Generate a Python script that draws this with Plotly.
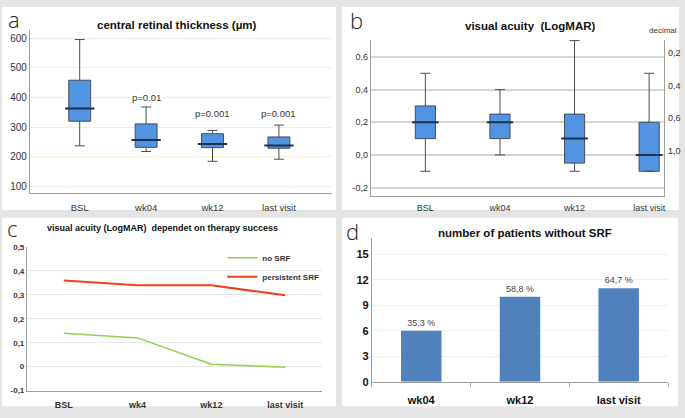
import plotly.graph_objects as go

W, H = 685, 418

# panel a: central retinal thickness (box summary stats)
crt_cats = ['BSL', 'wk04', 'wk12', 'last visit']
crt_low = [237, 218, 185, 192]
crt_q1 = [320, 232, 231, 229]
crt_med = [363, 257, 243, 238]
crt_q3 = [458, 311, 278, 267]
crt_high = [595, 368, 289, 307]
crt_pvals = ['', 'p=0.01', 'p=0.001', 'p=0.001']

# panel b: visual acuity logMAR (box summary stats)
va_cats = ['BSL', 'wk04', 'wk12', 'last visit']
va_low = [-0.1, 0.0, -0.1, -0.1]
va_q1 = [0.1, 0.1, -0.05, -0.1]
va_med = [0.2, 0.2, 0.1, 0.0]
va_q3 = [0.3, 0.25, 0.25, 0.2]
va_high = [0.5, 0.4, 0.7, 0.5]
va_ticks = [-0.2, 0.0, 0.2, 0.4, 0.6]
va_ticktext = ['-0,2', '0,0', '0,2', '0,4', '0,6']
dec_ticks = [0.6, 0.4, 0.2, 0.0]
dec_ticktext = ['0,2', '0,4', '0,6', '1,0']

# panel c: visual acuity by therapy success
srf_cats = ['BSL', 'wk4', 'wk12', 'last visit']
no_srf = [0.14, 0.12, 0.01, -0.003]
persistent_srf = [0.36, 0.34, 0.34, 0.298]
c_ticks = [-0.1, 0, 0.1, 0.2, 0.3, 0.4, 0.5]
c_ticktext = ['-0,1', '0', '0,1', '0,2', '0,3', '0,4', '0,5']

# panel d: number of patients without SRF
pat_cats = ['wk04', 'wk12', 'last visit']
pat_counts = [6, 10, 11]
pat_pct = ['35,3 %', '58,8 %', '64,7 %']

FONT = 'Liberation Sans'
TXT = '#333333'
BOX_FILL = '#5294e2'
BOX_LINE = '#454d58'
MED_LINE = '#1c3350'


def px_x(p):
    return p / W


def px_y(p):
    return 1 - p / H


def dom_x(a, b):
    return [px_x(a), px_x(b)]


def dom_y(top, bottom):
    return [px_y(bottom), px_y(top)]


fig = go.Figure()

# ---- a
fig.add_trace(go.Box(
    x=crt_cats, q1=crt_q1, median=crt_med, q3=crt_q3,
    lowerfence=crt_low, upperfence=crt_high,
    boxpoints=False, width=0.33, whiskerwidth=0.45,
    fillcolor=BOX_FILL, line=dict(color=BOX_LINE, width=1),
    xaxis='x', yaxis='y', showlegend=False, hoverinfo='skip',
))
fig.add_trace(go.Scatter(
    x=crt_cats, y=crt_med, mode='markers',
    marker=dict(symbol='line-ew', size=21, line=dict(color=MED_LINE, width=2)),
    xaxis='x', yaxis='y', showlegend=False, hoverinfo='skip',
))

# ---- b
fig.add_trace(go.Box(
    x=va_cats, q1=va_q1, median=va_med, q3=va_q3,
    lowerfence=va_low, upperfence=va_high,
    boxpoints=False, width=0.27, whiskerwidth=0.5,
    fillcolor=BOX_FILL, line=dict(color=BOX_LINE, width=1),
    xaxis='x2', yaxis='y2', showlegend=False, hoverinfo='skip',
))
fig.add_trace(go.Scatter(
    x=va_cats, y=va_med, mode='markers',
    marker=dict(symbol='line-ew', size=19, line=dict(color=MED_LINE, width=2)),
    xaxis='x2', yaxis='y2', showlegend=False, hoverinfo='skip',
))

# ---- c
fig.add_trace(go.Scatter(
    x=srf_cats, y=no_srf, mode='lines', name='no SRF',
    line=dict(color='#8fd14f', width=1.5),
    xaxis='x4', yaxis='y4',
))
fig.add_trace(go.Scatter(
    x=srf_cats, y=persistent_srf, mode='lines', name='persistent SRF',
    line=dict(color='#f0401c', width=2),
    xaxis='x4', yaxis='y4',
))

# ---- d
fig.add_trace(go.Bar(
    x=pat_cats, y=pat_counts, text=pat_pct, textposition='outside',
    textfont=dict(size=9, color='#444444', family=FONT),
    marker=dict(color='#4f81bd', line=dict(width=0)), width=0.41,
    cliponaxis=False, xaxis='x5', yaxis='y5', showlegend=False,
    hoverinfo='skip',
))

axis_line = dict(showline=True, linecolor='#a0a0a0', linewidth=1, zeroline=False,
                 ticks='', tickfont=dict(family=FONT, size=9, color=TXT))

panels = [
    (2, 3, 337, 211),
    (343, 3, 681, 211),
    (2, 219, 337, 412),
    (343, 219, 680, 412),
]
shapes = [
    dict(type='rect', xref='paper', yref='paper', layer='below',
         x0=px_x(l), x1=px_x(r), y0=px_y(b), y1=px_y(t),
         fillcolor='white', line=dict(width=0))
    for l, t, r, b in panels
]


def note(text, x, y, size, color=TXT, family=FONT, weight='normal'):
    return dict(text=text, x=px_x(x), y=px_y(y), xref='paper', yref='paper',
                xanchor='center', yanchor='middle', showarrow=False,
                font=dict(family=family, size=size, color=color, weight=weight))


annotations = []
for letter, (x, y) in zip('abcd', [(14, 15), (358, 16), (12, 230), (354, 233)]):
    annotations.append(note(letter, x, y, 22, '#222222', 'Open Sans', 300))

titles = [
    ('central retinal thickness (µm)', 178, 22, 11.5),
    ('visual acuity  (LogMAR)', 532, 23, 11.5),
    ('visual acuity (LogMAR)  dependet on therapy success', 163, 230, 9),
    ('number of patients without SRF', 527, 235, 11.5),
]
for text, x, y, size in titles:
    annotations.append(note('<b>%s</b>' % text, x, y, size, '#111111'))

p_label_y = {'p=0.01': 400, 'p=0.001': 347}
for cat, p in zip(crt_cats, crt_pvals):
    if p:
        annotations.append(dict(text=p, x=cat, y=p_label_y[p], xref='x', yref='y',
                                showarrow=False, bgcolor='white',
                                font=dict(family=FONT, size=9.5, color=TXT)))

# right-hand decimal scale of panel b
annotations.append(note('decimal', 665, 27, 8))
for val, txt in zip(dec_ticks, dec_ticktext):
    annotations.append(dict(text=txt, x=1, y=val, xref='x2 domain', yref='y2',
                            xanchor='left', yanchor='middle', xshift=2, yshift=4,
                            showarrow=False, font=dict(family=FONT, size=9, color=TXT)))

fig.update_layout(
    width=W, height=H,
    margin=dict(l=0, r=0, t=0, b=0),
    paper_bgcolor='#e4e4e4',
    plot_bgcolor='rgba(0,0,0,0)',
    shapes=shapes,
    annotations=annotations,
    font=dict(family=FONT, color=TXT),
    # a
    xaxis=dict(axis_line, domain=dom_x(30, 333), anchor='y', type='category',
               range=[-0.75, 3.8], showgrid=False, ticklabelstandoff=5,
               tickfont=dict(family=FONT, size=9.5, color=TXT)),
    yaxis=dict(axis_line, domain=dom_y(27, 194), anchor='x', range=[77, 626],
               tickvals=[100, 200, 300, 400, 500, 600], showgrid=True,
               gridcolor='#f2eedd', gridwidth=1,
               tickfont=dict(family=FONT, size=10, color=TXT)),
    # b
    xaxis2=dict(axis_line, domain=dom_x(372, 666), anchor='y2', type='category',
                range=[-0.73, 3.2], showgrid=False, ticklabelstandoff=3),
    yaxis2=dict(axis_line, domain=dom_y(37, 197), anchor='x2', range=[-0.253, 0.703],
                tickvals=va_ticks, ticktext=va_ticktext, showgrid=True, mirror=True,
                gridcolor='#d6d6d6', gridwidth=1.5),
    # c
    xaxis4=dict(axis_line, domain=dom_x(27, 323), anchor='y4', type='category',
                range=[-0.5, 3.5], showgrid=False, ticklabelstandoff=6,
                tickfont=dict(family=FONT, size=9, color=TXT, weight='bold')),
    yaxis4=dict(axis_line, domain=dom_y(249, 396), anchor='x4', range=[-0.1, 0.5],
                tickvals=c_ticks, ticktext=c_ticktext, showgrid=True,
                gridcolor='#e6e6e6', gridwidth=1,
                tickfont=dict(family=FONT, size=8, color=TXT, weight='bold')),
    # d
    xaxis5=dict(axis_line, domain=dom_x(373, 670), anchor='y5', type='category',
                range=[-0.5, 2.5], showgrid=False, ticks='outside',
                tickson='boundaries', ticklen=4, tickcolor='#a0a0a0',
                ticklabelstandoff=8,
                tickfont=dict(family=FONT, size=11, color='#111111', weight='bold')),
    yaxis5=dict(axis_line, domain=dom_y(240, 387), anchor='x5', range=[0, 16.9],
                tickvals=[0, 3, 6, 9, 12, 15], showgrid=True,
                gridcolor='#f0f0f0', gridwidth=1,
                tickfont=dict(family=FONT, size=11, color='#111111', weight='bold')),
    legend=dict(x=px_x(223), y=px_y(245), xanchor='left', yanchor='top',
                bgcolor='rgba(0,0,0,0)', itemwidth=30, tracegroupgap=0,
                font=dict(family=FONT, size=8, color=TXT, weight='bold')),
    showlegend=True,
)

fig.write_html("out.html", config={'displayModeBar': False},
               post_script="document.body.style.margin='0';")
